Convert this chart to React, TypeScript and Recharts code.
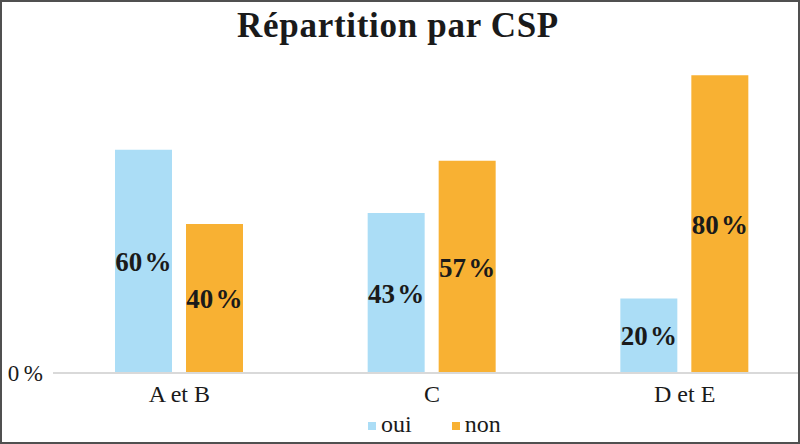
import { BarChart, Bar, XAxis, YAxis, Legend, LabelList } from "recharts";

const categories = ["A et B", "C", "D et E"];
const ouiValues = [60, 43, 20];
const nonValues = [40, 57, 80];
const yTicks = [0];

const OUI_COLOR = "#ABDDF6";
const NON_COLOR = "#F8B133";
const FONT = '"Liberation Serif", "Times New Roman", serif';

const data = categories.map((cat, i) => ({
  cat,
  oui: ouiValues[i],
  non: nonValues[i],
}));

const pct = (v: any) => `${v}\u200A%`;
const tickPct = (v: any) => `${v}\u2009%`;

const renderLegend = () => (
  <div style={{ display: "flex", fontFamily: FONT, fontSize: 24, lineHeight: "30px", color: "#1a1a1a" }}>
    {[
      { name: "oui", color: OUI_COLOR },
      { name: "non", color: NON_COLOR },
    ].map((it, i) => (
      <div key={it.name} style={{ display: "flex", alignItems: "center", marginRight: i === 0 ? 40 : 0 }}>
        <span style={{ width: 8, height: 8, background: it.color, marginRight: 5, marginTop: 4 }} />
        <span style={{ fontFamily: FONT }}>{it.name}</span>
      </div>
    ))}
  </div>
);

export default function App() {
  return (
    <div style={{ position: "relative", width: 800, height: 444, overflow: "hidden", background: "#fff", fontFamily: FONT }}>
      <style>{"body{margin:0}"}</style>
      <div
        style={{
          position: "absolute",
          top: 8,
          left: 0,
          width: 796,
          textAlign: "center",
          fontFamily: FONT,
          fontWeight: 700,
          fontSize: 35,
          lineHeight: "35px",
          letterSpacing: 0.7,
          color: "#1a1a1a",
        }}
      >
        Répartition par CSP
      </div>
      <BarChart
        width={811}
        height={444}
        data={data}
        margin={{ top: 38, right: 0, bottom: 0, left: 1 }}
        barSize={57}
        barGap={14}
      >
        <XAxis
          dataKey="cat"
          height={41}
          tickLine={false}
          tickMargin={6}
          axisLine={{ stroke: "#d9d9d9", strokeWidth: 2 }}
          tick={{ fontFamily: FONT, fontSize: 24, fill: "#1a1a1a" }}
        />
        <YAxis
          width={52}
          domain={[0, 90]}
          ticks={yTicks}
          axisLine={false}
          tickLine={false}
          tickMargin={4}
          tickFormatter={tickPct}
          tick={{ fontFamily: FONT, fontSize: 23, fill: "#1a1a1a" }}
        />
        <Legend
          verticalAlign="bottom"
          height={30}
          content={renderLegend}
          wrapperStyle={{ left: 368, top: 409, width: 180, height: 30 }}
        />
        <Bar dataKey="oui" fill={OUI_COLOR} isAnimationActive={false}>
          <LabelList
            dataKey="oui"
            position="center"
            formatter={pct}
            style={{ fontFamily: FONT, fontSize: 27, fontWeight: 700, fill: "#1a1a1a" }}
          />
        </Bar>
        <Bar dataKey="non" fill={NON_COLOR} isAnimationActive={false}>
          <LabelList
            dataKey="non"
            position="center"
            formatter={pct}
            style={{ fontFamily: FONT, fontSize: 27, fontWeight: 700, fill: "#1a1a1a" }}
          />
        </Bar>
      </BarChart>
      <div
        style={{
          position: "absolute",
          inset: 0,
          border: "2px solid #505050",
          boxSizing: "border-box",
          pointerEvents: "none",
        }}
      />
    </div>
  );
}
